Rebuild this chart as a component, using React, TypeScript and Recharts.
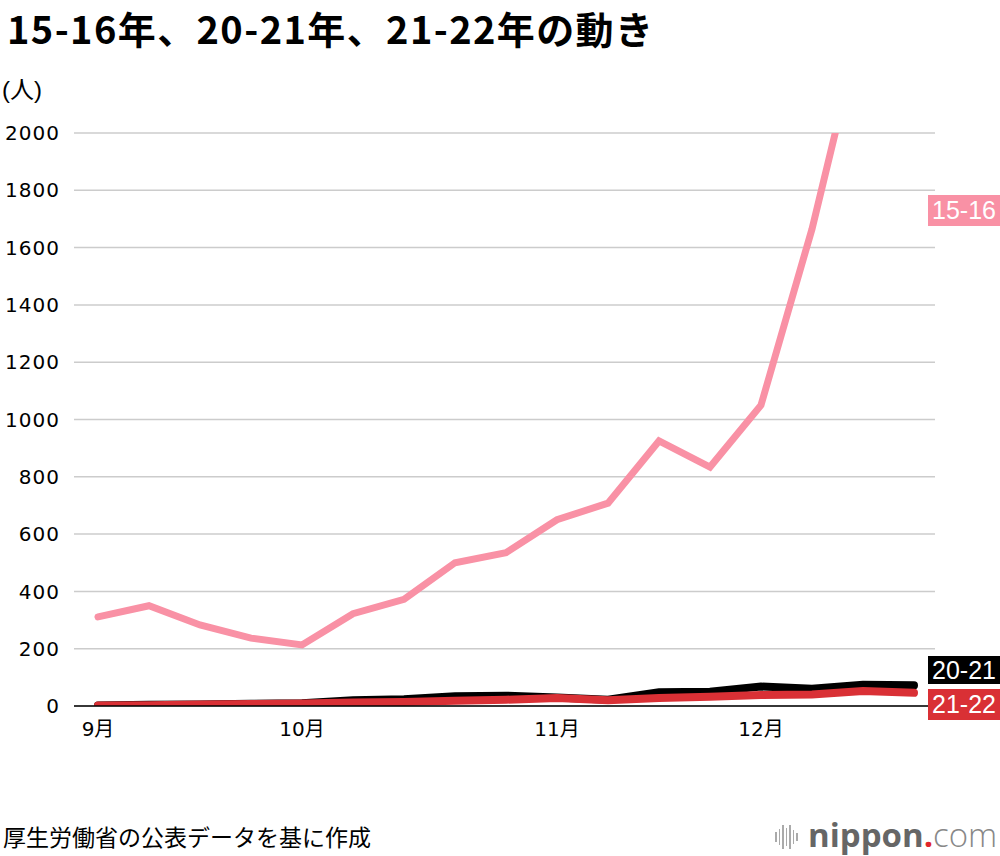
import { LineChart, Line, XAxis, YAxis, CartesianGrid } from "recharts";

// 週ごとのデータ（9月第1週〜12月末）
const weekLabels = ["9月", "", "", "", "10月", "", "", "", "", "11月", "", "", "", "12月", "", "", ""];
const s1516 = [311, 350, 283, 237, 213, 322, 372, 500, 535, 650, 708, 925, 834, 1050, 1665, 2400, null];
const s2021 = [2, 4, 5, 8, 10, 20, 24, 34, 36, 30, 22, 48, 50, 68, 60, 74, 72];
const s2122 = [2, 3, 5, 7, 9, 12, 14, 18, 22, 28, 20, 28, 32, 38, 40, 52, 46];
const yTicks = [0, 200, 400, 600, 800, 1000, 1200, 1400, 1600, 1800, 2000];

const data = weekLabels.map((_, i) => ({
  idx: i,
  s1516: s1516[i],
  s2021: s2021[i],
  s2122: s2122[i],
}));

const PINK = "#f991a5";
const RED = "#d93035";
const FONT = "'Liberation Sans', 'Noto Sans CJK JP', sans-serif";
const TICK = "'DejaVu Sans', 'Noto Sans CJK JP', sans-serif";
const JP = "'Noto Sans CJK JP', sans-serif";

const tagStyle = (bg: string, top: number, h: number): React.CSSProperties => ({
  position: "absolute",
  left: 928,
  top,
  width: 72,
  height: h,
  background: bg,
  color: "#fff",
  fontFamily: FONT,
  fontSize: 25,
  lineHeight: `${h}px`,
  textAlign: "center",
});

export default function App() {
  return (
    <div style={{ position: "fixed", left: 0, top: 0, width: 1000, height: 856, background: "#fff", overflow: "hidden" }}>
      <div style={{ position: "absolute", left: 7, top: 0, fontFamily: JP, fontWeight: 700, fontSize: 38, letterSpacing: 1.4, color: "#000", whiteSpace: "nowrap" }}>
        15-16年、20-21年、21-22年の動き
      </div>
      <div style={{ position: "absolute", left: 2, top: 70, fontFamily: FONT, fontSize: 24, color: "#000" }}>(人)</div>

      <div style={{ position: "absolute", left: 0, top: 0 }}>
        <LineChart width={1000} height={856} data={data} margin={{ top: 133, right: 65, bottom: 120, left: 0 }}>
          <CartesianGrid vertical={false} stroke="#cccccc" strokeWidth={1.5} />
          <XAxis
            dataKey="idx"
            type="category"
            interval={0}
            padding={{ left: 24, right: 21 }}
            tickFormatter={(v: number) => weekLabels[v]}
            axisLine={{ stroke: "#000", strokeWidth: 1.5 }}
            tickLine={false}
            tickMargin={10}
            tick={{ fill: "#000", fontSize: 20, fontFamily: TICK }}
          />
          <YAxis
            width={74}
            domain={[0, 2000]}
            ticks={yTicks}
            allowDataOverflow
            axisLine={false}
            tickLine={false}
            tickMargin={8}
            tick={{ fill: "#000", fontSize: 20, fontFamily: TICK, letterSpacing: 1 }}
          />
          <Line dataKey="s1516" stroke={PINK} strokeWidth={7} strokeLinecap="round" dot={false} isAnimationActive={false} />
          <Line dataKey="s2021" stroke="#000" strokeWidth={8} strokeLinecap="round" dot={false} isAnimationActive={false} />
          <Line dataKey="s2122" stroke={RED} strokeWidth={8} strokeLinecap="round" dot={false} isAnimationActive={false} />
        </LineChart>
      </div>

      <div style={tagStyle(PINK, 195, 31)}>15-16</div>
      <div style={tagStyle("#000", 656, 28)}>20-21</div>
      <div style={tagStyle(RED, 689, 31)}>21-22</div>

      <div style={{ position: "absolute", left: 3, top: 819, fontFamily: JP, fontSize: 23, color: "#000", whiteSpace: "nowrap" }}>
        厚生労働省の公表データを基に作成
      </div>

      <div style={{ position: "absolute", left: 775, top: 822, height: 30, display: "flex", alignItems: "center", gap: 2 }}>
        {[10, 16, 24, 18, 24, 14, 8].map((h, i) => (
          <div key={i} style={{ width: 1.5, height: h, background: "#aaa" }} />
        ))}
      </div>
      <div style={{ position: "absolute", left: 808, top: 815, fontFamily: "'Open Sans', sans-serif", fontSize: 33, color: "#666", whiteSpace: "nowrap", lineHeight: "40px" }}>
        <span style={{ fontWeight: 700 }}>nippon</span>
        <span style={{ color: "#e0262c", fontWeight: 700 }}>.</span>
        <span style={{ fontWeight: 300, color: "#888" }}>com</span>
      </div>
    </div>
  );
}
